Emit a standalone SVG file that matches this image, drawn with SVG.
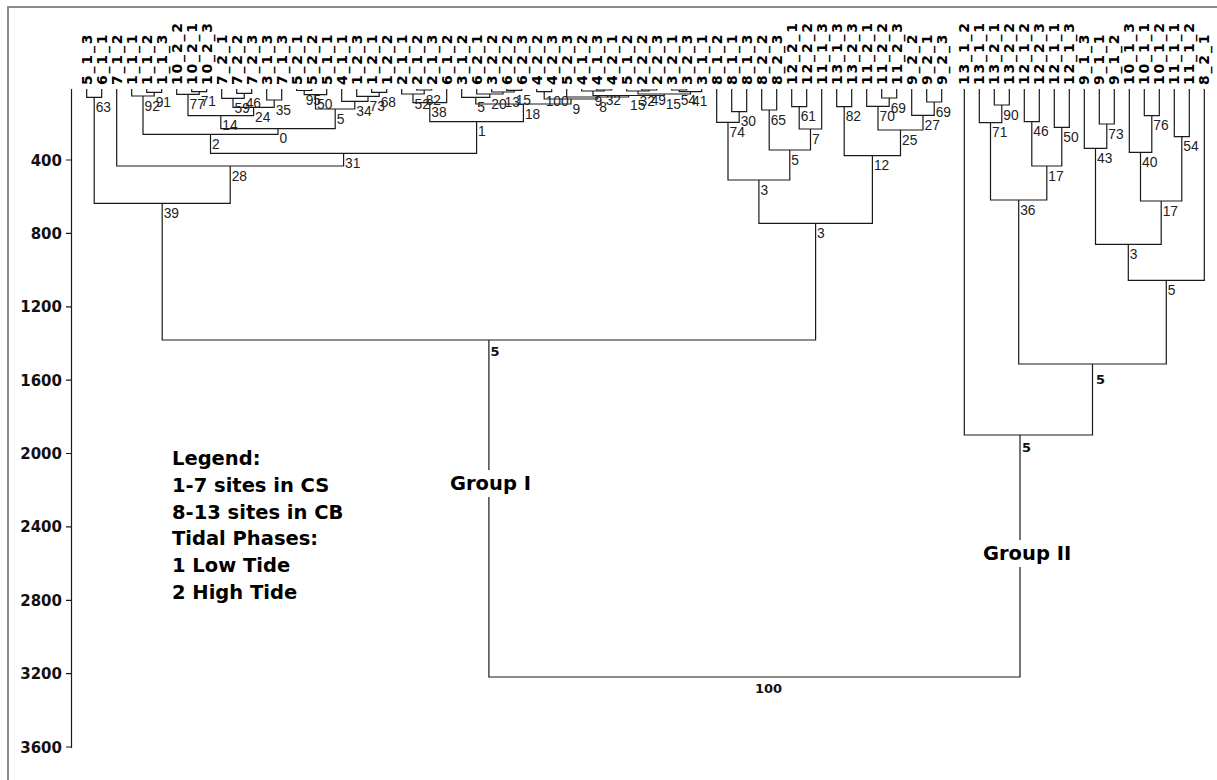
<svg xmlns="http://www.w3.org/2000/svg" width="1217" height="780" viewBox="0 0 1217 780">
<style>
.ln{fill:none;stroke:#1a1a1a;stroke-width:1.2}
.fr{fill:none;stroke:#8c8c8c;stroke-width:2}
.lf{font-family:"DejaVu Sans",sans-serif;font-weight:bold;font-size:14px;letter-spacing:1.8px;fill:#000}
.nl{font-family:"Liberation Sans",Arial,sans-serif;font-size:13.8px;fill:#222}
.bl{font-family:"DejaVu Sans",sans-serif;font-weight:bold;font-size:13px;fill:#111}
.ax{font-family:"DejaVu Sans",sans-serif;font-weight:bold;font-size:15px;fill:#111;text-anchor:end}
.lg{font-family:"DejaVu Sans",sans-serif;font-weight:bold;font-size:19.5px;fill:#000}
</style>
<rect width="1217" height="780" fill="#fff"/>
<path class="fr" d="M8 780V7H1217"/>
<g id="axis">
<path class="ln" d="M71.5 89V748M66 160H71.5M66 233.4H71.5M66 306.8H71.5M66 380.1H71.5M66 453.5H71.5M66 526.9H71.5M66 600.3H71.5M66 673.6H71.5M66 747H71.5"/>
<text class="ax" x="62" y="165.5">400</text>
<text class="ax" x="62" y="238.9">800</text>
<text class="ax" x="62" y="312.3">1200</text>
<text class="ax" x="62" y="385.6">1600</text>
<text class="ax" x="62" y="459">2000</text>
<text class="ax" x="62" y="532.4">2400</text>
<text class="ax" x="62" y="605.8">2800</text>
<text class="ax" x="62" y="679.1">3200</text>
<text class="ax" x="62" y="752.5">3600</text>
</g>
<g id="connectors">
<path class="ln" d="M86.7 89V97.3H101.7V89"/>
<path class="ln" d="M146.7 89V92.3H161.7V89"/>
<path class="ln" d="M131.7 89V96H154.2V92.3"/>
<path class="ln" d="M191.7 89V91.7H206.7V89"/>
<path class="ln" d="M176.7 89V94.3H199.2V91.7"/>
<path class="ln" d="M236.7 89V93.3H251.7V89"/>
<path class="ln" d="M221.7 89V98.3H244.2V93.3"/>
<path class="ln" d="M266.7 89V100H281.7V89"/>
<path class="ln" d="M233 98.3V107.3H274.2V100"/>
<path class="ln" d="M188 94.3V115.7H253.6V107.3"/>
<path class="ln" d="M296.7 89V90.5H311.7V89"/>
<path class="ln" d="M304.2 90.5V94.7H326.7V89"/>
<path class="ln" d="M371.7 89V92.3H386.7V89"/>
<path class="ln" d="M356.7 89V96.3H379.2V92.3"/>
<path class="ln" d="M341.7 89V101.3H368V96.3"/>
<path class="ln" d="M315.5 94.7V109H354.8V101.3"/>
<path class="ln" d="M220.8 115.7V128.7H335.2V109"/>
<path class="ln" d="M143 96V134.3H278V128.7"/>
<path class="ln" d="M416.7 89V90H431.7V89"/>
<path class="ln" d="M401.7 89V94H424.2V90"/>
<path class="ln" d="M413 94V102.7H446.7V89"/>
<path class="ln" d="M506.7 89V90.3H521.7V89"/>
<path class="ln" d="M491.7 89V92H514.2V90.3"/>
<path class="ln" d="M476.7 89V94H503V92"/>
<path class="ln" d="M461.7 89V97.3H489.8V94"/>
<path class="ln" d="M536.7 89V91.7H551.7V89"/>
<path class="ln" d="M596.7 89V90H611.7V89"/>
<path class="ln" d="M581.7 89V91H604.2V90"/>
<path class="ln" d="M641.7 89V90H656.7V89"/>
<path class="ln" d="M626.7 89V91H649.2V90"/>
<path class="ln" d="M671.7 89V90H686.7V89"/>
<path class="ln" d="M679.2 90V91.7H701.7V89"/>
<path class="ln" d="M638 91V94H690.5V91.7"/>
<path class="ln" d="M593 91V95.5H664.2V94"/>
<path class="ln" d="M566.7 89V97H628.6V95.5"/>
<path class="ln" d="M544.2 91.7V99H597.7V97"/>
<path class="ln" d="M475.8 97.3V104H571V99"/>
<path class="ln" d="M429.8 102.7V121.7H523.4V104"/>
<path class="ln" d="M210.5 134.3V153.3H476.6V121.7"/>
<path class="ln" d="M116.7 89V166H343.6V153.3"/>
<path class="ln" d="M94.2 97.3V203.3H230.2V166"/>
<path class="ln" d="M731.7 89V111.7H746.7V89"/>
<path class="ln" d="M716.7 89V122.3H739.2V111.7"/>
<path class="ln" d="M761.7 89V110H776.7V89"/>
<path class="ln" d="M791.7 89V106.7H806.7V89"/>
<path class="ln" d="M799.2 106.7V129H821.7V89"/>
<path class="ln" d="M769.2 110V150H810.5V129"/>
<path class="ln" d="M728 122.3V180H789.8V150"/>
<path class="ln" d="M836.7 89V106.7H851.7V89"/>
<path class="ln" d="M881.7 89V98H896.7V89"/>
<path class="ln" d="M866.7 89V106.3H889.2V98"/>
<path class="ln" d="M926.7 89V102H941.7V89"/>
<path class="ln" d="M911.7 89V115.3H934.2V102"/>
<path class="ln" d="M878 106.3V130H923V115.3"/>
<path class="ln" d="M844.2 106.7V155.7H900.5V130"/>
<path class="ln" d="M758.9 180V223.3H872.4V155.7"/>
<path class="ln" d="M162.2 203.3V340H815.6V223.3"/>
<path class="ln" d="M994.3 89V105H1009.3V89"/>
<path class="ln" d="M979.3 89V122.7H1001.8V105"/>
<path class="ln" d="M1024.3 89V121.7H1039.3V89"/>
<path class="ln" d="M1054.3 89V127.3H1069.3V89"/>
<path class="ln" d="M1031.8 121.7V166H1061.8V127.3"/>
<path class="ln" d="M990.5 122.7V200H1046.8V166"/>
<path class="ln" d="M1099.3 89V124H1114.3V89"/>
<path class="ln" d="M1084.3 89V148.3H1106.8V124"/>
<path class="ln" d="M1144.3 89V115.7H1159.3V89"/>
<path class="ln" d="M1129.3 89V152.3H1151.8V115.7"/>
<path class="ln" d="M1174.3 89V136.7H1189.3V89"/>
<path class="ln" d="M1140.5 152.3V201H1181.8V136.7"/>
<path class="ln" d="M1095.5 148.3V244.3H1161.2V201"/>
<path class="ln" d="M1128.3 244.3V280.3H1204.3V89"/>
<path class="ln" d="M1018.7 200V364H1166.3V280.3"/>
<path class="ln" d="M964.3 89V435H1092.5V364"/>
<path class="ln" d="M488.9 340V677H1020V435"/>
</g>
<g id="leaves">
<g id="leaf-5_1_3"><text class="lf" transform="translate(91.6 85) rotate(-90)">5_1_3</text></g>
<g id="leaf-6_1_1"><text class="lf" transform="translate(106.6 85) rotate(-90)">6_1_1</text></g>
<g id="leaf-7_1_2"><text class="lf" transform="translate(121.6 85) rotate(-90)">7_1_2</text></g>
<g id="leaf-1_1_1"><text class="lf" transform="translate(136.6 85) rotate(-90)">1_1_1</text></g>
<g id="leaf-1_1_2"><text class="lf" transform="translate(151.6 85) rotate(-90)">1_1_2</text></g>
<g id="leaf-1_1_3"><text class="lf" transform="translate(166.6 85) rotate(-90)">1_1_3</text></g>
<g id="leaf-10_2_2"><text class="lf" transform="translate(181.6 85) rotate(-90)">10_2_2</text></g>
<g id="leaf-10_2_1"><text class="lf" transform="translate(196.6 85) rotate(-90)">10_2_1</text></g>
<g id="leaf-10_2_3"><text class="lf" transform="translate(211.6 85) rotate(-90)">10_2_3</text></g>
<g id="leaf-7_2_1"><text class="lf" transform="translate(226.6 85) rotate(-90)">7_2_1</text></g>
<g id="leaf-7_2_2"><text class="lf" transform="translate(241.6 85) rotate(-90)">7_2_2</text></g>
<g id="leaf-7_2_3"><text class="lf" transform="translate(256.6 85) rotate(-90)">7_2_3</text></g>
<g id="leaf-3_1_3"><text class="lf" transform="translate(271.6 85) rotate(-90)">3_1_3</text></g>
<g id="leaf-7_1_3"><text class="lf" transform="translate(286.6 85) rotate(-90)">7_1_3</text></g>
<g id="leaf-5_2_1"><text class="lf" transform="translate(301.6 85) rotate(-90)">5_2_1</text></g>
<g id="leaf-5_2_2"><text class="lf" transform="translate(316.6 85) rotate(-90)">5_2_2</text></g>
<g id="leaf-5_1_1"><text class="lf" transform="translate(331.6 85) rotate(-90)">5_1_1</text></g>
<g id="leaf-4_1_1"><text class="lf" transform="translate(346.6 85) rotate(-90)">4_1_1</text></g>
<g id="leaf-1_2_3"><text class="lf" transform="translate(361.6 85) rotate(-90)">1_2_3</text></g>
<g id="leaf-1_2_1"><text class="lf" transform="translate(376.6 85) rotate(-90)">1_2_1</text></g>
<g id="leaf-1_2_2"><text class="lf" transform="translate(391.6 85) rotate(-90)">1_2_2</text></g>
<g id="leaf-2_1_1"><text class="lf" transform="translate(406.6 85) rotate(-90)">2_1_1</text></g>
<g id="leaf-2_1_2"><text class="lf" transform="translate(421.6 85) rotate(-90)">2_1_2</text></g>
<g id="leaf-2_1_3"><text class="lf" transform="translate(436.6 85) rotate(-90)">2_1_3</text></g>
<g id="leaf-6_1_2"><text class="lf" transform="translate(451.6 85) rotate(-90)">6_1_2</text></g>
<g id="leaf-3_1_2"><text class="lf" transform="translate(466.6 85) rotate(-90)">3_1_2</text></g>
<g id="leaf-6_2_1"><text class="lf" transform="translate(481.6 85) rotate(-90)">6_2_1</text></g>
<g id="leaf-3_2_2"><text class="lf" transform="translate(496.6 85) rotate(-90)">3_2_2</text></g>
<g id="leaf-6_2_2"><text class="lf" transform="translate(511.6 85) rotate(-90)">6_2_2</text></g>
<g id="leaf-6_2_3"><text class="lf" transform="translate(526.6 85) rotate(-90)">6_2_3</text></g>
<g id="leaf-4_2_2"><text class="lf" transform="translate(541.6 85) rotate(-90)">4_2_2</text></g>
<g id="leaf-4_2_3"><text class="lf" transform="translate(556.6 85) rotate(-90)">4_2_3</text></g>
<g id="leaf-5_2_3"><text class="lf" transform="translate(571.6 85) rotate(-90)">5_2_3</text></g>
<g id="leaf-4_1_2"><text class="lf" transform="translate(586.6 85) rotate(-90)">4_1_2</text></g>
<g id="leaf-4_1_3"><text class="lf" transform="translate(601.6 85) rotate(-90)">4_1_3</text></g>
<g id="leaf-4_2_1"><text class="lf" transform="translate(616.6 85) rotate(-90)">4_2_1</text></g>
<g id="leaf-5_1_2"><text class="lf" transform="translate(631.6 85) rotate(-90)">5_1_2</text></g>
<g id="leaf-2_2_2"><text class="lf" transform="translate(646.6 85) rotate(-90)">2_2_2</text></g>
<g id="leaf-2_2_3"><text class="lf" transform="translate(661.6 85) rotate(-90)">2_2_3</text></g>
<g id="leaf-3_2_1"><text class="lf" transform="translate(676.6 85) rotate(-90)">3_2_1</text></g>
<g id="leaf-3_2_3"><text class="lf" transform="translate(691.6 85) rotate(-90)">3_2_3</text></g>
<g id="leaf-3_1_1"><text class="lf" transform="translate(706.6 85) rotate(-90)">3_1_1</text></g>
<g id="leaf-8_1_2"><text class="lf" transform="translate(721.6 85) rotate(-90)">8_1_2</text></g>
<g id="leaf-8_1_1"><text class="lf" transform="translate(736.6 85) rotate(-90)">8_1_1</text></g>
<g id="leaf-8_1_3"><text class="lf" transform="translate(751.6 85) rotate(-90)">8_1_3</text></g>
<g id="leaf-8_2_2"><text class="lf" transform="translate(766.6 85) rotate(-90)">8_2_2</text></g>
<g id="leaf-8_2_3"><text class="lf" transform="translate(781.6 85) rotate(-90)">8_2_3</text></g>
<g id="leaf-12_2_1"><text class="lf" transform="translate(796.6 85) rotate(-90)">12_2_1</text></g>
<g id="leaf-12_2_2"><text class="lf" transform="translate(811.6 85) rotate(-90)">12_2_2</text></g>
<g id="leaf-11_1_3"><text class="lf" transform="translate(826.6 85) rotate(-90)">11_1_3</text></g>
<g id="leaf-13_1_3"><text class="lf" transform="translate(841.6 85) rotate(-90)">13_1_3</text></g>
<g id="leaf-13_2_3"><text class="lf" transform="translate(856.6 85) rotate(-90)">13_2_3</text></g>
<g id="leaf-11_2_1"><text class="lf" transform="translate(871.6 85) rotate(-90)">11_2_1</text></g>
<g id="leaf-11_2_2"><text class="lf" transform="translate(886.6 85) rotate(-90)">11_2_2</text></g>
<g id="leaf-11_2_3"><text class="lf" transform="translate(901.6 85) rotate(-90)">11_2_3</text></g>
<g id="leaf-9_2_2"><text class="lf" transform="translate(916.6 85) rotate(-90)">9_2_2</text></g>
<g id="leaf-9_2_1"><text class="lf" transform="translate(931.6 85) rotate(-90)">9_2_1</text></g>
<g id="leaf-9_2_3"><text class="lf" transform="translate(946.6 85) rotate(-90)">9_2_3</text></g>
<g id="leaf-13_1_2"><text class="lf" transform="translate(969.2 85) rotate(-90)">13_1_2</text></g>
<g id="leaf-13_1_1"><text class="lf" transform="translate(984.2 85) rotate(-90)">13_1_1</text></g>
<g id="leaf-13_2_1"><text class="lf" transform="translate(999.2 85) rotate(-90)">13_2_1</text></g>
<g id="leaf-13_2_2"><text class="lf" transform="translate(1014.2 85) rotate(-90)">13_2_2</text></g>
<g id="leaf-12_1_2"><text class="lf" transform="translate(1029.2 85) rotate(-90)">12_1_2</text></g>
<g id="leaf-12_2_3"><text class="lf" transform="translate(1044.2 85) rotate(-90)">12_2_3</text></g>
<g id="leaf-12_1_1"><text class="lf" transform="translate(1059.2 85) rotate(-90)">12_1_1</text></g>
<g id="leaf-12_1_3"><text class="lf" transform="translate(1074.2 85) rotate(-90)">12_1_3</text></g>
<g id="leaf-9_1_3"><text class="lf" transform="translate(1089.2 85) rotate(-90)">9_1_3</text></g>
<g id="leaf-9_1_1"><text class="lf" transform="translate(1104.2 85) rotate(-90)">9_1_1</text></g>
<g id="leaf-9_1_2"><text class="lf" transform="translate(1119.2 85) rotate(-90)">9_1_2</text></g>
<g id="leaf-10_1_3"><text class="lf" transform="translate(1134.2 85) rotate(-90)">10_1_3</text></g>
<g id="leaf-10_1_1"><text class="lf" transform="translate(1149.2 85) rotate(-90)">10_1_1</text></g>
<g id="leaf-10_1_2"><text class="lf" transform="translate(1164.2 85) rotate(-90)">10_1_2</text></g>
<g id="leaf-11_1_1"><text class="lf" transform="translate(1179.2 85) rotate(-90)">11_1_1</text></g>
<g id="leaf-11_1_2"><text class="lf" transform="translate(1194.2 85) rotate(-90)">11_1_2</text></g>
<g id="leaf-8_2_1"><text class="lf" transform="translate(1209.2 85) rotate(-90)">8_2_1</text></g>
</g>
<g id="nodes">
<g id="n63"><text class="nl" x="95.7" y="111.8">63</text></g>
<g id="n91"><text class="nl" x="155.7" y="106.8">91</text></g>
<g id="n92"><text class="nl" x="144.5" y="110.5">92</text></g>
<g id="n71a"><text class="nl" x="200.7" y="106.2">71</text></g>
<g id="n77"><text class="nl" x="189.5" y="108.8">77</text></g>
<g id="n46a"><text class="nl" x="245.7" y="107.8">46</text></g>
<g id="n59"><text class="nl" x="234.5" y="112.8">59</text></g>
<g id="n35"><text class="nl" x="275.7" y="114.5">35</text></g>
<g id="n24"><text class="nl" x="255.1" y="121.8">24</text></g>
<g id="n14"><text class="nl" x="222.3" y="130.2">14</text></g>
<g id="n95"><text class="nl" x="305.7" y="105">95</text></g>
<g id="n50a"><text class="nl" x="317" y="109.2">50</text></g>
<g id="n68"><text class="nl" x="380.7" y="106.8">68</text></g>
<g id="n73a"><text class="nl" x="369.5" y="110.8">73</text></g>
<g id="n34"><text class="nl" x="356.3" y="115.8">34</text></g>
<g id="n5a"><text class="nl" x="336.7" y="123.5">5</text></g>
<g id="n0"><text class="nl" x="279.5" y="143.2">0</text></g>
<g id="n2"><text class="nl" x="212" y="148.8">2</text></g>
<g id="n82a"><text class="nl" x="425.7" y="104.5">82</text></g>
<g id="n52"><text class="nl" x="414.5" y="108.5">52</text></g>
<g id="n38"><text class="nl" x="431.3" y="117.2">38</text></g>
<g id="n15c"><text class="nl" x="515.7" y="104.8">15</text></g>
<g id="n13"><text class="nl" x="504.5" y="106.5">13</text></g>
<g id="n20"><text class="nl" x="491.3" y="108.5">20</text></g>
<g id="n5b"><text class="nl" x="477.3" y="111.8">5</text></g>
<g id="n100"><text class="nl" x="545.7" y="106.2">100</text></g>
<g id="n32a"><text class="nl" x="605.7" y="104.5">32</text></g>
<g id="n9s"><text class="nl" x="594.5" y="105.5">9</text></g>
<g id="n49"><text class="nl" x="650.7" y="104.5">49</text></g>
<g id="n32b"><text class="nl" x="639.5" y="105.5">32</text></g>
<g id="n54a"><text class="nl" x="680.7" y="104.5">54</text></g>
<g id="n41"><text class="nl" x="692" y="106.2">41</text></g>
<g id="n15b"><text class="nl" x="665.7" y="108.5">15</text></g>
<g id="n15a"><text class="nl" x="630.1" y="110">15</text></g>
<g id="n8"><text class="nl" x="599.2" y="111.5">8</text></g>
<g id="n9"><text class="nl" x="572.5" y="113.5">9</text></g>
<g id="n18"><text class="nl" x="524.9" y="118.5">18</text></g>
<g id="n1"><text class="nl" x="478.1" y="136.2">1</text></g>
<g id="n31"><text class="nl" x="345.1" y="167.8">31</text></g>
<g id="n28"><text class="nl" x="231.7" y="180.5">28</text></g>
<g id="n39"><text class="nl" x="163.7" y="217.8">39</text></g>
<g id="n30"><text class="nl" x="740.7" y="126.2">30</text></g>
<g id="n74"><text class="nl" x="729.5" y="136.8">74</text></g>
<g id="n65"><text class="nl" x="770.7" y="124.5">65</text></g>
<g id="n61"><text class="nl" x="800.7" y="121.2">61</text></g>
<g id="n7"><text class="nl" x="812" y="143.5">7</text></g>
<g id="n5r"><text class="nl" x="791.3" y="164.5">5</text></g>
<g id="n3a"><text class="nl" x="760.4" y="194.5">3</text></g>
<g id="n82b"><text class="nl" x="845.7" y="121.2">82</text></g>
<g id="n69a"><text class="nl" x="890.7" y="112.5">69</text></g>
<g id="n70"><text class="nl" x="879.5" y="120.8">70</text></g>
<g id="n69b"><text class="nl" x="935.7" y="116.5">69</text></g>
<g id="n27"><text class="nl" x="924.5" y="129.8">27</text></g>
<g id="n25"><text class="nl" x="902" y="144.5">25</text></g>
<g id="n12"><text class="nl" x="873.9" y="170.2">12</text></g>
<g id="n3b"><text class="nl" x="817.1" y="237.8">3</text></g>
<g id="nG1"><text class="bl" x="490.4" y="356">5</text></g>
<g id="n90"><text class="nl" x="1003.3" y="119.5">90</text></g>
<g id="n71b"><text class="nl" x="992" y="137.2">71</text></g>
<g id="n46b"><text class="nl" x="1033.3" y="136.2">46</text></g>
<g id="n50b"><text class="nl" x="1063.3" y="141.8">50</text></g>
<g id="n17a"><text class="nl" x="1048.3" y="180.5">17</text></g>
<g id="n36"><text class="nl" x="1020.2" y="214.5">36</text></g>
<g id="n73b"><text class="nl" x="1108.3" y="138.5">73</text></g>
<g id="n43"><text class="nl" x="1097" y="162.8">43</text></g>
<g id="n76"><text class="nl" x="1153.3" y="130.2">76</text></g>
<g id="n40"><text class="nl" x="1142" y="166.8">40</text></g>
<g id="n54b"><text class="nl" x="1183.3" y="151.2">54</text></g>
<g id="n17b"><text class="nl" x="1162.7" y="215.5">17</text></g>
<g id="n3c"><text class="nl" x="1129.8" y="258.8">3</text></g>
<g id="n5c"><text class="nl" x="1167.8" y="294.8">5</text></g>
<g id="n5d"><text class="bl" x="1096" y="384">5</text></g>
<g id="n5e"><text class="bl" x="1022" y="452">5</text></g>
<g id="root"><text class="bl" x="755" y="693">100</text></g>
</g>
<g id="group-labels">
<g id="groupI"><rect x="446" y="470" width="88" height="27" fill="#fff"/><text class="lg" x="450" y="490">Group I</text></g>
<g id="groupII"><rect x="979" y="540" width="100" height="27" fill="#fff"/><text class="lg" x="983" y="560">Group II</text></g>
</g>
<g id="legend">
<text class="lg" x="172" y="465">Legend:</text>
<text class="lg" x="172" y="492">1-7 sites in CS</text>
<text class="lg" x="172" y="519">8-13 sites in CB</text>
<text class="lg" x="172" y="545">Tidal Phases:</text>
<text class="lg" x="172" y="572">1 Low Tide</text>
<text class="lg" x="172" y="599">2 High Tide</text>
</g>
</svg>
